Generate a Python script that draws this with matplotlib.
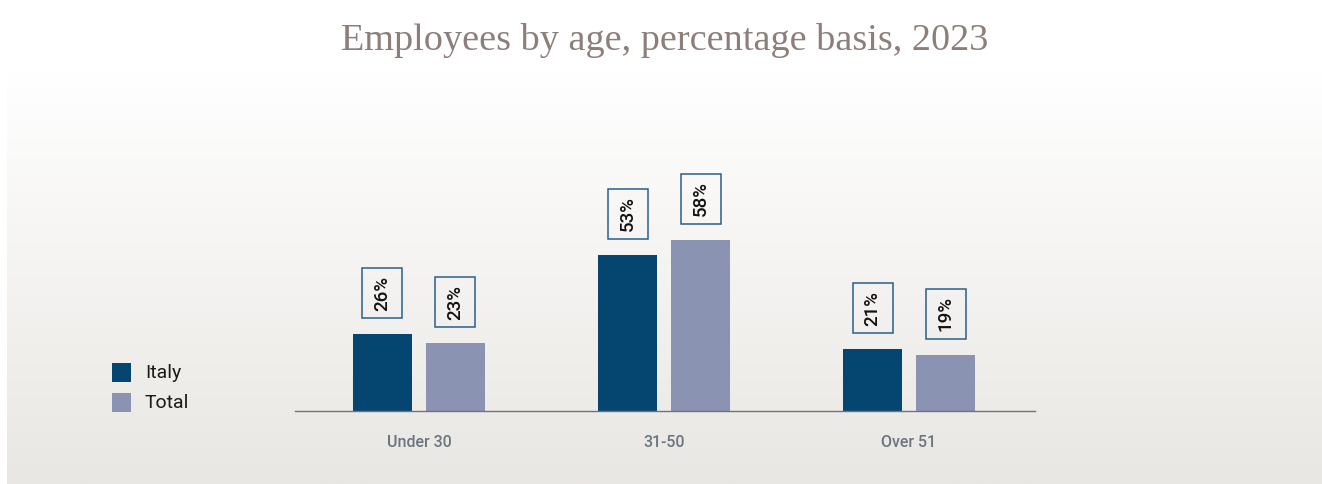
import numpy as np
import matplotlib
matplotlib.use("Agg")
import matplotlib.pyplot as plt
import matplotlib.transforms as mtransforms
from matplotlib.patches import Rectangle

# Data
categories = ["Under 30", "31-50", "Over 51"]
italy = [26, 53, 21]
total = [23, 58, 19]
series_names = ["Italy", "Total"]

# Styling
ITALY_COLOR = "#04466f"
TOTAL_COLOR = "#8a94b2"
BOX_EDGE = "#2a5f8a"
AXIS_COLOR = "#6b7580"
TITLE_COLOR = "#8c7f7a"
SANS = ["Roboto", "DejaVu Sans"]

W, H = 1322, 484
fig = plt.figure(figsize=(W / 100, H / 100), dpi=100)
fig.patch.set_facecolor("white")

# Soft vertical gradient panel behind the chart
bg = fig.add_axes([7 / W, 0, 1 - 7 / W, (H - 70) / H])
bg.set_axis_off()
top = np.array([1.0, 1.0, 1.0])
bottom = np.array([0xe9, 0xe7, 0xe3]) / 255
t = np.linspace(0, 1, 256)[:, None]
grad = top * (1 - t) + bottom * t
bg.imshow(grad[:, None, :], aspect="auto", extent=[0, 1, 0, 1], origin="upper")
bg.set_xlim(0, 1)
bg.set_ylim(0, 1)

# Main plotting area
ax = fig.add_axes([295 / W, 73 / H, 740 / W, 311 / H])
ax.set_facecolor("none")
x = np.arange(len(categories))
bw = 0.24
off = 0.149
ax.bar(x - off, italy, bw, color=ITALY_COLOR, label=series_names[0])
ax.bar(x + off, total, bw, color=TOTAL_COLOR, label=series_names[1])

ax.set_xlim(-0.506, 2.514)
ax.set_ylim(0, 105.4)
for s in ["top", "right", "left"]:
    ax.spines[s].set_visible(False)
ax.spines["bottom"].set_color(AXIS_COLOR)
ax.spines["bottom"].set_linewidth(1.0)
ax.set_yticks([])
ax.set_xticks(x)
ax.set_xticklabels(categories, fontsize=11.5, color=AXIS_COLOR,
                   family=SANS, fontweight="medium")
ax.tick_params(axis="x", length=0, pad=17)

# Value labels: rotated text inside an outlined box above each bar
pt = mtransforms.Affine2D().scale(1 / 72) + fig.dpi_scale_trans
box_w, box_h, gap = 28.8, 36.0, 11.5
for xs, vals in ((x - off, italy), (x + off, total)):
    for xi, v in zip(xs, vals):
        tr = pt + mtransforms.ScaledTranslation(xi, v, ax.transData)
        ax.add_patch(Rectangle((-box_w / 2, gap), box_w, box_h, transform=tr,
                               facecolor="none", edgecolor=BOX_EDGE,
                               linewidth=1.1, clip_on=False))
        ax.text(0, gap + box_h / 2, f"{v}%", transform=tr, rotation=90,
                ha="center", va="center", fontsize=13.5, color="#111111",
                family=SANS, fontweight="medium", clip_on=False)

# Legend drawn as squares with labels
for i, (name, col) in enumerate(zip(series_names, [ITALY_COLOR, TOTAL_COLOR])):
    y0 = 363 + 30 * i
    fig.patches.append(Rectangle((112 / W, 1 - (y0 + 19) / H), 19 / W, 19 / H,
                                 transform=fig.transFigure, facecolor=col,
                                 edgecolor="none"))
    fig.text(145 / W, 1 - (y0 + 10) / H, name, fontsize=14, color="#1a1a1a",
             family=SANS, va="center", ha="left")

# Title
fig.text(665 / W, 1 - 40 / H, "Employees by age, percentage basis, 2023",
         fontsize=27.5, color=TITLE_COLOR, family=["Liberation Serif", "DejaVu Serif"],
         ha="center", va="center")

fig.savefig("out.png", dpi=100, facecolor=fig.get_facecolor())
